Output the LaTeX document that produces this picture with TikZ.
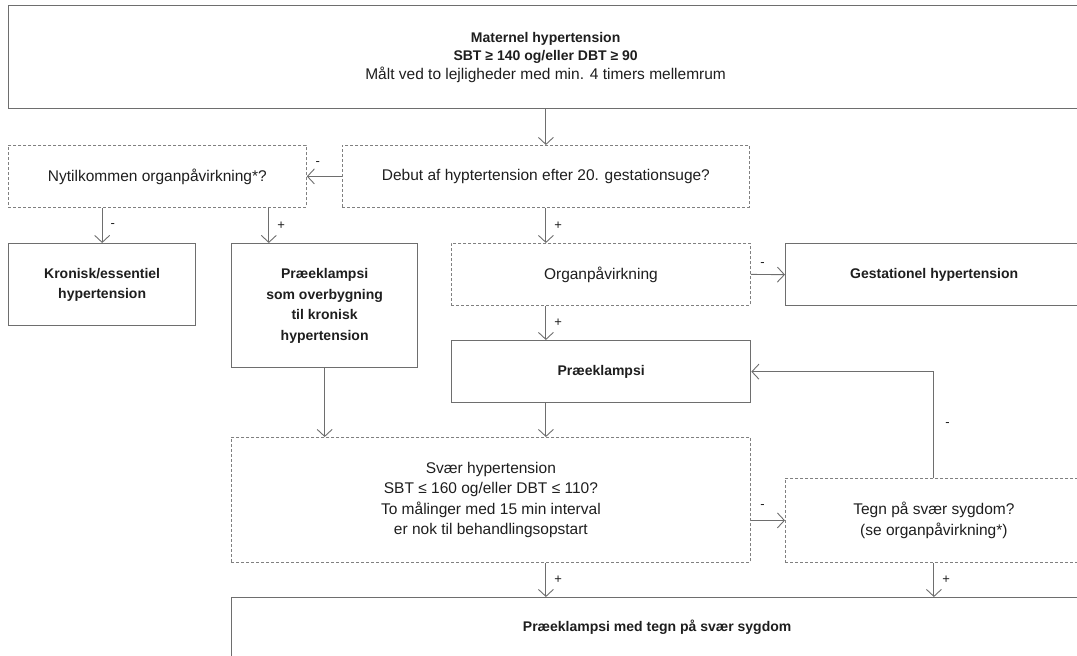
\documentclass[tikz,border=0pt]{standalone}
\usepackage{fontspec}
\setmainfont{Liberation Sans}
\usetikzlibrary{arrows.meta}
\definecolor{ln}{HTML}{6E6E6E}
\definecolor{dl}{HTML}{808080}
\definecolor{tx}{HTML}{1E1E1E}
\begin{document}
\begin{tikzpicture}[x=1pt,y=-1pt,
  reg/.style={font=\fontsize{15.5}{20.5}\selectfont, text=tx},
  bld/.style={font=\bfseries\fontsize{14}{20.5}\selectfont, text=tx},
  sbox/.style={draw=ln, line width=1.3pt, inner sep=0pt, align=center, anchor=north west},
  dbox/.style={draw=dl, line width=0.8pt, dash pattern=on 3pt off 2pt, inner sep=0pt, align=center, anchor=north west},
  arr/.style={draw=ln, line width=0.9pt, -{Straight Barb[length=7pt,width=15pt]}},
  sgn/.style={font=\fontsize{13}{13}\selectfont, text=tx, inner sep=0pt}]
\useasboundingbox (0,0) rectangle (1077,656);
\clip (0,0) rectangle (1077,656);

\node[sbox, minimum width=1074pt, minimum height=103pt, text=tx,
      font=\fontsize{14}{18.5}\selectfont] (top) at (8,5)
  {{\bfseries Maternel hypertension}\\
   {\bfseries SBT ≥ 140 og/eller DBT ≥ 90}\\
   {\fontsize{15.5}{18.5}\selectfont Målt ved to lejligheder med min. 4 timers mellemrum}};

\node[dbox, reg, minimum width=298pt, minimum height=62pt] (nyt) at (8,145)
  {Nytilkommen organpåvirkning*?};
\node[dbox, reg, minimum width=407pt, minimum height=62pt] (debut) at (342,145)
  {Debut af hyptertension efter 20. gestationsuge?};

\node[sbox, bld, minimum width=187pt, minimum height=82pt] (kron) at (8,243)
  {Kronisk/essentiel\\hypertension};
\node[sbox, bld, minimum width=186pt, minimum height=124pt] (ovb) at (231,243)
  {Præeklampsi\\som overbygning\\til kronisk\\hypertension};
\node[dbox, reg, minimum width=299pt, minimum height=62pt] (organ) at (451,243)
  {Organpåvirkning};
\node[sbox, bld, minimum width=297pt, minimum height=62pt] (gest) at (785,243)
  {Gestationel hypertension};
\node[sbox, bld, minimum width=299pt, minimum height=62pt] (praek) at (451,340)
  {Præeklampsi};
\node[dbox, reg, minimum width=519pt, minimum height=125pt] (svaer) at (231,437)
  {Svær hypertension\\SBT ≤ 160 og/eller DBT ≤ 110?\\To målinger med 15 min interval\\er nok til behandlingsopstart};
\node[dbox, reg, minimum width=297pt, minimum height=84pt] (tegn) at (785,478)
  {Tegn på svær sygdom?\\(se organpåvirkning*)};
\node[sbox, bld, minimum width=851pt, minimum height=72pt, text depth=15pt] (bot) at (231,597)
  {Præeklampsi med tegn på svær sygdom};

% connectors
\draw[arr] (top.south -| debut.north) -- (debut.north);
\draw[arr] (debut.west) -- node[sgn, pos=0.69, above=10pt] {-} (nyt.east);
\draw[arr] (nyt.south -| kron.north) -- node[sgn, midway, right=8pt] {-} (kron.north);
\coordinate (nr) at ([xshift=-38pt]nyt.south east);
\draw[arr] (nr) -- node[sgn, midway, right=8pt] {+} (nr |- ovb.north);
\draw[arr] (debut.south) -- node[sgn, midway, right=8pt] {+} (debut.south |- organ.north);
\draw[arr] (organ.east) -- node[sgn, pos=0.34, above=8pt] {-} (gest.west);
\draw[arr] (debut.south |- organ.south) -- node[sgn, midway, right=8pt] {+} (debut.south |- praek.north);
\draw[arr] (ovb.south) -- (ovb.south |- svaer.north);
\draw[arr] (debut.south |- praek.south) -- (debut.south |- svaer.north);
\draw[arr] (svaer.east |- tegn.west) -- node[sgn, pos=0.34, above=11pt] {-} (tegn.west);
\draw[arr] (tegn.north) |- node[sgn, pos=0.25, right=11pt] {-} (praek.east);
\draw[arr] (debut.south |- svaer.south) -- node[sgn, midway, right=8pt] {+} (debut.south |- bot.north);
\draw[arr] (tegn.south) -- node[sgn, midway, right=8pt] {+} (tegn.south |- bot.north);
\end{tikzpicture}
\end{document}
